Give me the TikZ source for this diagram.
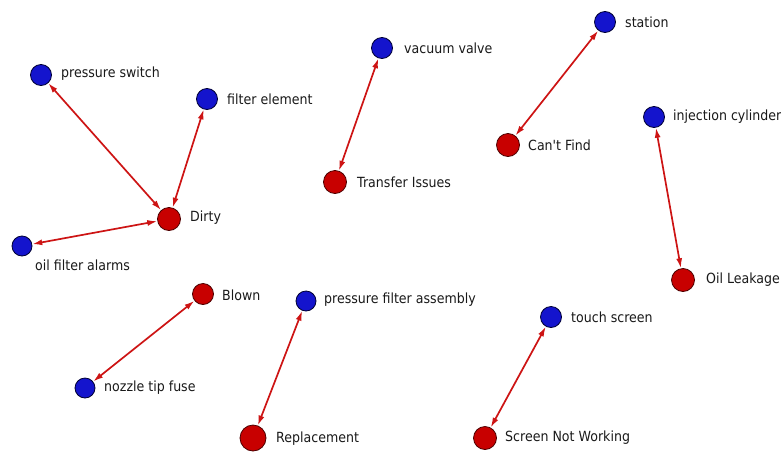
\documentclass[tikz,border=0pt]{standalone}
\usepackage{fontspec}
\newfontfamily\lblfont{DejaVu Sans}[FakeStretch=0.9]
\usetikzlibrary{arrows.meta}
\definecolor{nodeblue}{RGB}{20,20,205}
\definecolor{nodered}{RGB}{200,0,0}
\definecolor{edgered}{RGB}{205,20,20}
\begin{document}
\begin{tikzpicture}[x=1pt,y=-1pt,
  bn/.style={circle,draw=black!80!blue,line width=0.8pt,fill=nodeblue,minimum size=21pt,inner sep=0pt},
  rn/.style={circle,draw=black!70!red,line width=0.8pt,fill=nodered,minimum size=23pt,inner sep=0pt},
  lbl/.style={anchor=west,inner sep=0pt,font=\lblfont\fontsize{14}{16}\selectfont,text=black!90},
  link/.style={draw=edgered,line width=1.7pt,{Latex[length=10pt,width=6pt]}-{Latex[length=10pt,width=6pt]}}]
\useasboundingbox (0,0) rectangle (781,453);
% nodes
\node[bn] (ps) at (41,75) {};
\node[lbl] at (61,74) {pressure switch};
\node[bn] (fe) at (207,99) {};
\node[lbl] at (227,99) {filter element};
\node[rn] (dirty) at (169,219) {};
\node[lbl] at (190,218) {Dirty};
\node[bn,minimum size=20pt] (ofa) at (22,246) {};
\node[lbl] at (35,265) {oil filter alarms};
\node[bn] (vv) at (382,48) {};
\node[lbl] at (404,48) {vacuum valve};
\node[rn] (ti) at (335,182) {};
\node[lbl] at (357,182) {Transfer Issues};
\node[bn] (st) at (605,22) {};
\node[lbl] at (625,22) {station};
\node[rn] (cf) at (508,145) {};
\node[lbl] at (528,145) {Can't Find};
\node[bn] (ic) at (654,117) {};
\node[lbl] at (673,117) {injection cylinder};
\node[rn] (ol) at (683,280) {};
\node[lbl] at (706,280) {Oil Leakage};
\node[rn,minimum size=21pt] (bl) at (203,294) {};
\node[lbl] at (222,295) {Blown};
\node[bn,minimum size=20pt] (ntf) at (85,388) {};
\node[lbl] at (104,388) {nozzle tip fuse};
\node[bn,minimum size=20pt] (pfa) at (306,301) {};
\node[lbl] at (324,300) {pressure filter assembly};
\node[rn,minimum size=26pt] (rep) at (253,438) {};
\node[lbl] at (276,439) {Replacement};
\node[bn] (ts) at (551,317) {};
\node[lbl] at (571,317) {touch screen};
\node[rn] (snw) at (485,438) {};
\node[lbl] at (505,438) {Screen Not Working};
% edges
\draw[link] (ps) -- (dirty);
\draw[link] (fe) -- (dirty);
\draw[link] (ofa) -- (dirty);
\draw[link] (vv) -- (ti);
\draw[link] (st) -- (cf);
\draw[link] (ic) -- (ol);
\draw[link] (bl) -- (ntf);
\draw[link] (pfa) -- (rep);
\draw[link] (ts) -- (snw);
\end{tikzpicture}
\end{document}
